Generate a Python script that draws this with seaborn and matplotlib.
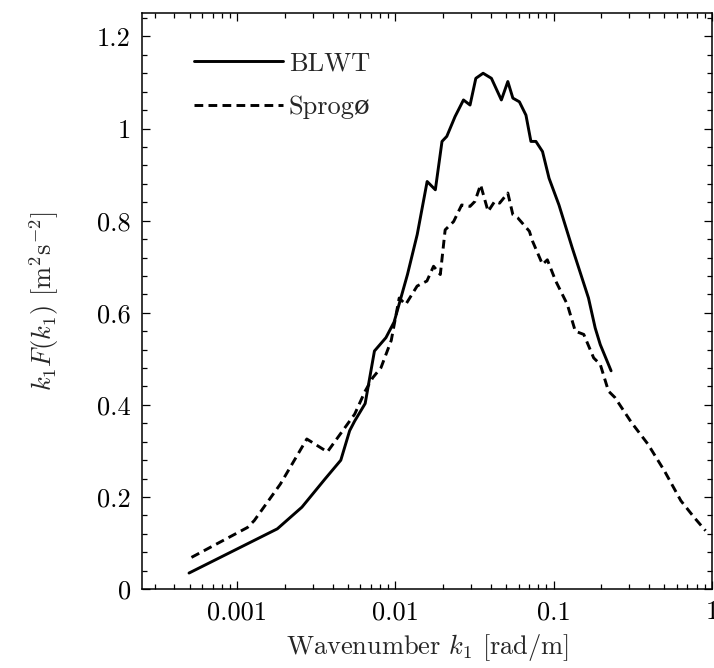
import numpy as np
import pandas as pd
import matplotlib
matplotlib.use("Agg")
import matplotlib.pyplot as plt
import matplotlib.ticker as mticker
import seaborn as sns

# ---- data ----
blwt_k = [0.000495, 0.00179, 0.00256, 0.00358, 0.00451, 0.00513, 0.00552, 0.00643,
          0.00736, 0.0087, 0.0098, 0.0119, 0.01372, 0.01585, 0.01786, 0.01968,
          0.0211, 0.0238, 0.0269, 0.0296, 0.0322, 0.0358, 0.0404, 0.0467, 0.0513,
          0.0552, 0.0607, 0.0668, 0.0718, 0.0772, 0.085, 0.0935, 0.108, 0.131,
          0.166, 0.183, 0.197, 0.2307]
blwt_v = [0.035, 0.131, 0.178, 0.239, 0.280, 0.344, 0.365, 0.403,
          0.517, 0.546, 0.580, 0.683, 0.770, 0.885, 0.867, 0.972,
          0.983, 1.026, 1.062, 1.051, 1.109, 1.120, 1.109, 1.062, 1.102,
          1.066, 1.058, 1.029, 0.972, 0.972, 0.950, 0.892, 0.834, 0.741,
          0.632, 0.567, 0.531, 0.474]

sprogo_k = [0.000513, 0.00116, 0.00128, 0.00187, 0.00275, 0.00371, 0.00552, 0.00643,
            0.00718, 0.0081, 0.0094, 0.01055, 0.0116, 0.0137, 0.0158, 0.0174,
            0.0192, 0.0206, 0.0233, 0.0262, 0.0296, 0.0318, 0.0345, 0.0385,
            0.0424, 0.0455, 0.0513, 0.0552, 0.0593, 0.0702, 0.0736, 0.085,
            0.0912, 0.103, 0.122, 0.137, 0.155, 0.179, 0.197, 0.222, 0.244,
            0.31, 0.394, 0.501, 0.637, 0.772, 0.912]
sprogo_v = [0.069, 0.134, 0.149, 0.228, 0.326, 0.298, 0.380, 0.430,
            0.459, 0.481, 0.540, 0.632, 0.618, 0.658, 0.669, 0.701,
            0.683, 0.780, 0.798, 0.834, 0.831, 0.842, 0.878, 0.820,
            0.842, 0.838, 0.860, 0.813, 0.806, 0.777, 0.755, 0.705,
            0.715, 0.669, 0.618, 0.560, 0.553, 0.502, 0.488, 0.430, 0.416,
            0.362, 0.315, 0.257, 0.192, 0.156, 0.127]

series_names = ["BLWT", "Sprogø"]
x_ticks = [0.001, 0.01, 0.1, 1]
x_tick_labels = ["0.001", "0.01", "0.1", "1"]
y_ticks = [0, 0.2, 0.4, 0.6, 0.8, 1.0, 1.2]
y_tick_labels = ["0", "0.2", "0.4", "0.6", "0.8", "1", "1.2"]

df = pd.concat([
    pd.DataFrame({"k": blwt_k, "val": blwt_v, "series": series_names[0]}),
    pd.DataFrame({"k": sprogo_k, "val": sprogo_v, "series": series_names[1]}),
], ignore_index=True)

sns.set_theme(style="ticks")
plt.rcParams["font.family"] = ["cmr10", "DejaVu Serif"]
plt.rcParams["mathtext.fontset"] = "cm"
plt.rcParams["axes.unicode_minus"] = False
plt.rcParams["axes.formatter.use_mathtext"] = True

FS = 19
LW = 2.1
DASH = (3.0, 1.8)

fig = plt.figure(figsize=(7.14, 6.68), dpi=100)
ax = fig.add_axes([0.199, 0.118, 0.798, 0.862])

sns.lineplot(data=df, x="k", y="val", hue="series", style="series",
             palette={series_names[0]: "black", series_names[1]: "black"},
             dashes={series_names[0]: "", series_names[1]: DASH},
             estimator=None, sort=False, linewidth=LW, ax=ax, legend=False)

ax.set_xscale("log")
ax.set_xlim(2.5e-4, 0.93)
ax.set_ylim(0, 1.25)

ax.set_xticks(x_ticks)
ax.set_xticklabels(x_tick_labels)
ax.xaxis.set_minor_locator(mticker.LogLocator(base=10, subs=np.arange(2, 10)))
ax.xaxis.set_minor_formatter(mticker.NullFormatter())
ax.set_yticks(y_ticks)
ax.set_yticklabels(y_tick_labels)
ax.yaxis.set_minor_locator(mticker.MultipleLocator(0.04))

for s in ax.spines.values():
    s.set_linewidth(1.1)
    s.set_color("black")
ax.tick_params(which="both", direction="in", top=True, right=True,
               colors="black", width=0.9)
ax.tick_params(which="major", length=6, labelsize=FS, pad=8)
ax.tick_params(which="minor", length=3.5)

ax.set_xlabel("Wavenumber $k_1$ [rad/m]", fontsize=FS, labelpad=6)
ax.set_ylabel("$k_1F(k_1)$ [m$^2$s$^{-2}$]", fontsize=FS, labelpad=26)

handles = [
    plt.Line2D([], [], color="black", linewidth=LW),
    plt.Line2D([], [], color="black", linewidth=LW, dashes=DASH),
]
ax.legend(handles, series_names, loc="upper left", bbox_to_anchor=(0.072, 0.952),
          frameon=False, fontsize=FS, handlelength=3.4, handletextpad=0.2,
          labelspacing=0.75, borderaxespad=0)

fig.savefig("out.png", dpi=100)
